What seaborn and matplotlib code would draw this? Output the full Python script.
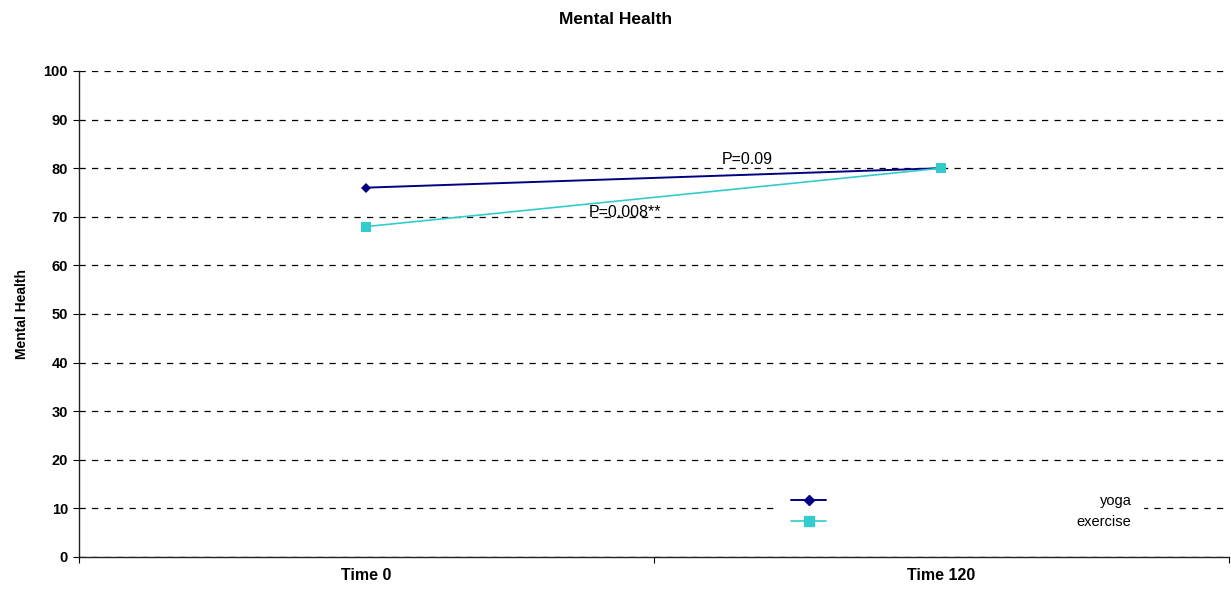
import matplotlib
matplotlib.use("Agg")
import matplotlib.pyplot as plt
import seaborn as sns
import pandas as pd
from matplotlib.ticker import FixedLocator
from matplotlib.lines import Line2D

# Mental health scores at two time points
times = ["Time 0", "Time 120"]
yoga = [76, 80]
exercise = [68, 80]
groups = ["yoga", "exercise"]
p_labels = ["P=0.09", "P=0.008**"]
y_ticks = [0, 10, 20, 30, 40, 50, 60, 70, 80, 90, 100]

df = pd.DataFrame({
    "time": times * 2,
    "score": yoga + exercise,
    "group": [groups[0]] * len(times) + [groups[1]] * len(times),
})

sns.set_theme(style="white")
plt.rcParams["font.family"] = ["Liberation Sans", "DejaVu Sans"]
plt.rcParams.update({"text.color": "black", "axes.labelcolor": "black",
                     "xtick.color": "black", "ytick.color": "black"})

fig = plt.figure(figsize=(12.31, 5.91), dpi=100)
ax = fig.add_axes([79 / 1231, 1 - 557 / 591, 1150 / 1231, 486 / 591])

palette = {"yoga": "#000080", "exercise": "#33CCCC"}
markers = {"yoga": "D", "exercise": "s"}
sizes = {"yoga": 1.4, "exercise": 1.2}

sns.lineplot(data=df, x="time", y="score", hue="group", style="group",
             palette=palette, markers=markers, dashes=False, size="group",
             sizes=sizes, ax=ax, legend=False, markeredgewidth=0)
for line, ms in zip(ax.lines, [5, 6.5]):
    line.set_markersize(ms)

ax.set_xlim(-0.5, 1.5)
ax.set_ylim(0, 100)
ax.set_yticks(y_ticks)
ax.set_xticks(range(len(times)))
ax.set_xticklabels(times)
ax.xaxis.set_minor_locator(FixedLocator([-0.5, 0.5, 1.5]))

ax.grid(axis="y", color="black", linestyle=(0, (5, 5)), linewidth=0.9)
ax.set_axisbelow(True)

for s in ["top", "right"]:
    ax.spines[s].set_visible(False)
for s in ["left", "bottom"]:
    ax.spines[s].set_color("#222222")
    ax.spines[s].set_linewidth(1.0)

ax.tick_params(axis="y", which="major", left=True, length=4, width=0.8,
               color="black", labelsize=10.5, pad=4)
ax.tick_params(axis="x", which="major", bottom=False, length=0, labelsize=11.5, pad=8)
ax.tick_params(axis="x", which="minor", bottom=True, length=4, width=0.8, color="black")
for lab in ax.get_xticklabels() + ax.get_yticklabels():
    lab.set_fontweight("bold")
    lab.set_color("black")

ax.set_xlabel("")
ax.set_ylabel("Mental Health", fontsize=10, fontweight="bold", labelpad=10.5)
fig.text(616 / 1231, 1 - 19.5 / 591, "Mental Health", ha="center", va="center",
         fontsize=12.5, fontweight="bold")

# significance labels near each trajectory
ax.text(0.663, 80.9, p_labels[0], ha="center", va="baseline", fontsize=11.5)
ax.text(0.45, 70.0, p_labels[1], ha="center", va="baseline", fontsize=11.5)

# legend: markers on the left, labels right-aligned
handles = [
    Line2D([], [], color=palette["yoga"], marker="D", markersize=5, linewidth=1.4),
    Line2D([], [], color=palette["exercise"], marker="s", markersize=6.5, linewidth=1.2),
]
leg = ax.legend(handles, groups, loc="center left",
                bbox_to_anchor=(0.609, 0.093), frameon=True,
                handlelength=2.4, handletextpad=17.2, fontsize=10.5,
                labelspacing=0.5, borderpad=0.8, borderaxespad=0)
leg.get_frame().set_facecolor("white")
leg.get_frame().set_edgecolor("white")
leg.get_frame().set_alpha(1.0)

fig.canvas.draw()
renderer = fig.canvas.get_renderer()
widths = [t.get_window_extent(renderer).width for t in leg.get_texts()]
for t, w in zip(leg.get_texts(), widths):
    t.set_x(max(widths) - w)

fig.savefig("out.png", dpi=100)
